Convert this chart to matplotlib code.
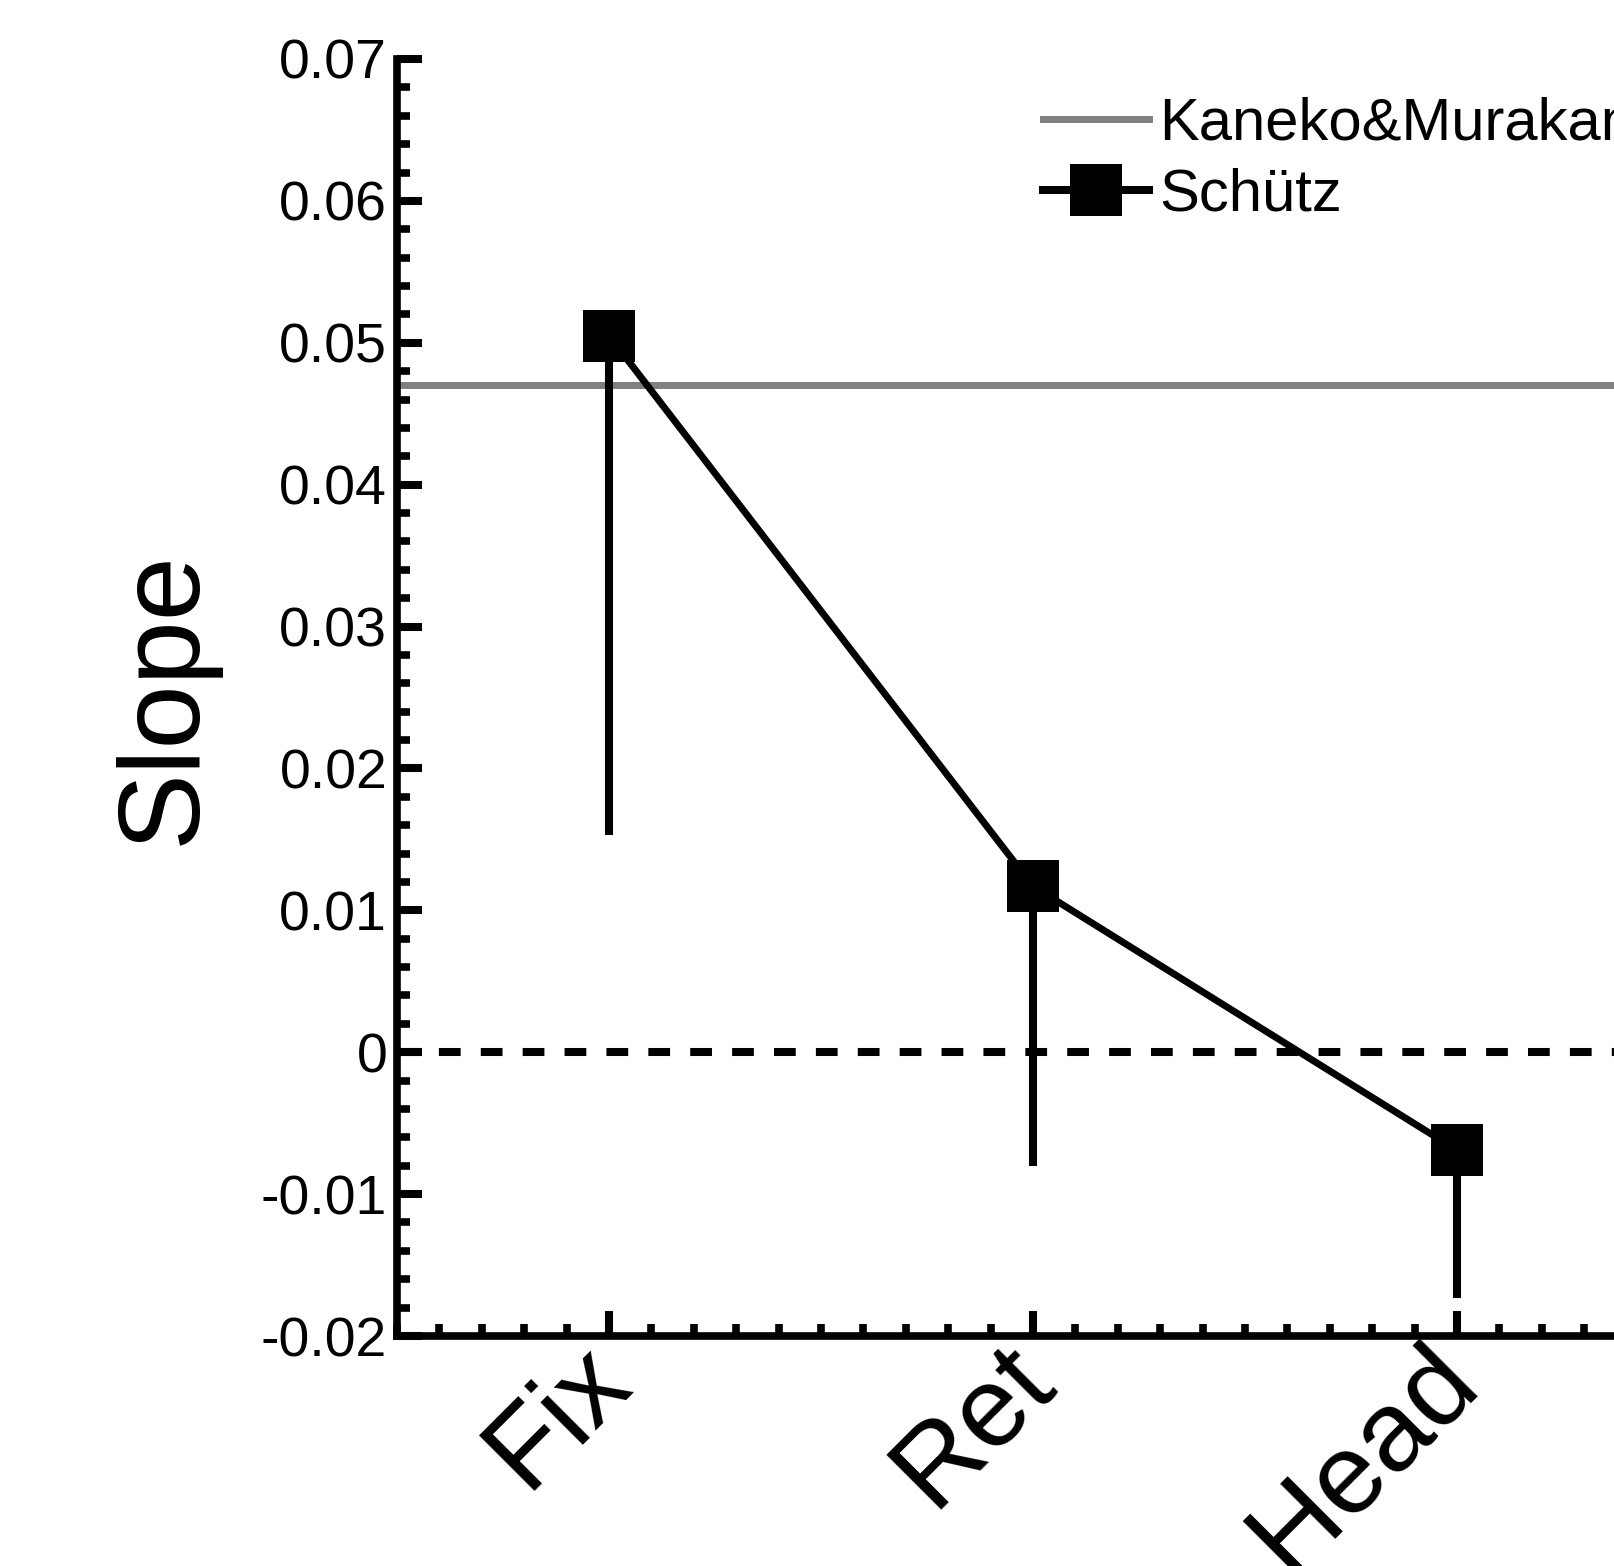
import matplotlib
matplotlib.use('Agg')
from matplotlib import pyplot as plt
from matplotlib.lines import Line2D
from matplotlib.ticker import MultipleLocator
import matplotlib.transforms as mtransforms
import numpy as np

# values
conditions = ['Fix', 'Ret', 'Head']
schutz_mean = [0.0505, 0.0117, -0.0069]
schutz_low = [0.0153, -0.0080, -0.0173]   # lower end of each error bar
kaneko_slope = 0.0470

yticks = [-0.02, -0.01, 0, 0.01, 0.02, 0.03, 0.04, 0.05, 0.06, 0.07]
ytick_labels = ['-0.02', '-0.01', '0', '0.01', '0.02', '0.03', '0.04', '0.05', '0.06', '0.07']

plt.rcParams['font.family'] = ['Liberation Sans', 'DejaVu Sans']

fig = plt.figure(figsize=(16.15, 15.66), dpi=100)
# axes run past the right edge of the picture, the original is cropped there
ax = fig.add_axes([0.2458, 0.14687, 0.7876, 0.81546])

x = np.arange(1, len(conditions) + 1)
mean = np.array(schutz_mean)
low_err = mean - np.array(schutz_low)

ax.axhline(kaneko_slope, color='#808080', lw=5, zorder=1)
ax.axhline(0, color='black', lw=5.8, linestyle=(0, (2.7, 2.5)), zorder=1)

ax.errorbar(x, mean, yerr=[low_err, np.zeros_like(low_err)], fmt='none',
            ecolor='black', elinewidth=5.8, capsize=0, zorder=2)
ax.plot(x, mean, color='black', lw=5, marker='s', markersize=37.4,
        markeredgewidth=0, markerfacecolor='black', zorder=3)

ax.set_xlim(0.5, 3.5)
ax.set_ylim(-0.02, 0.07)

ax.set_yticks(yticks)
ax.set_yticklabels(ytick_labels)
ax.yaxis.set_minor_locator(MultipleLocator(0.002))
ax.set_xticks(x)
ax.set_xticklabels([])
ax.xaxis.set_minor_locator(MultipleLocator(0.1))

# slanted category names, anchored at each tick with a small shift
offset = mtransforms.ScaledTranslation(-34 / 100, 10 / 100, fig.dpi_scale_trans)
for xi, name in zip(x, conditions):
    ax.text(xi, -0.02, name, transform=ax.transData + offset, rotation=45,
            ha='right', va='top', rotation_mode='anchor', fontsize=82,
            clip_on=False)

ax.tick_params(axis='both', which='major', direction='in', length=18, width=5.8)
ax.tick_params(axis='both', which='minor', direction='in', length=9, width=5.5)
ax.tick_params(axis='y', which='major', labelsize=40, pad=7)

for side in ['top', 'right']:
    ax.spines[side].set_visible(False)
for side in ['left', 'bottom']:
    ax.spines[side].set_linewidth(5.5)

ax.set_ylabel('Slope', fontsize=83)
ax.yaxis.set_label_coords(-0.14, 0.5)

handles = [Line2D([], [], color='#808080', lw=5),
           Line2D([], [], color='black', lw=5.8, marker='s', markersize=37.4,
                  markeredgewidth=0)]
ax.legend(handles, ['Kaneko&Murakami', 'Schütz'], loc='upper left',
          bbox_to_anchor=(1043 / 1615, 1 - 97 / 1566),
          bbox_transform=fig.transFigure, frameon=False, fontsize=43,
          borderpad=0, borderaxespad=0, handlelength=1.77,
          handletextpad=0.17, labelspacing=0.265)

fig.savefig('out.png', dpi=100)
